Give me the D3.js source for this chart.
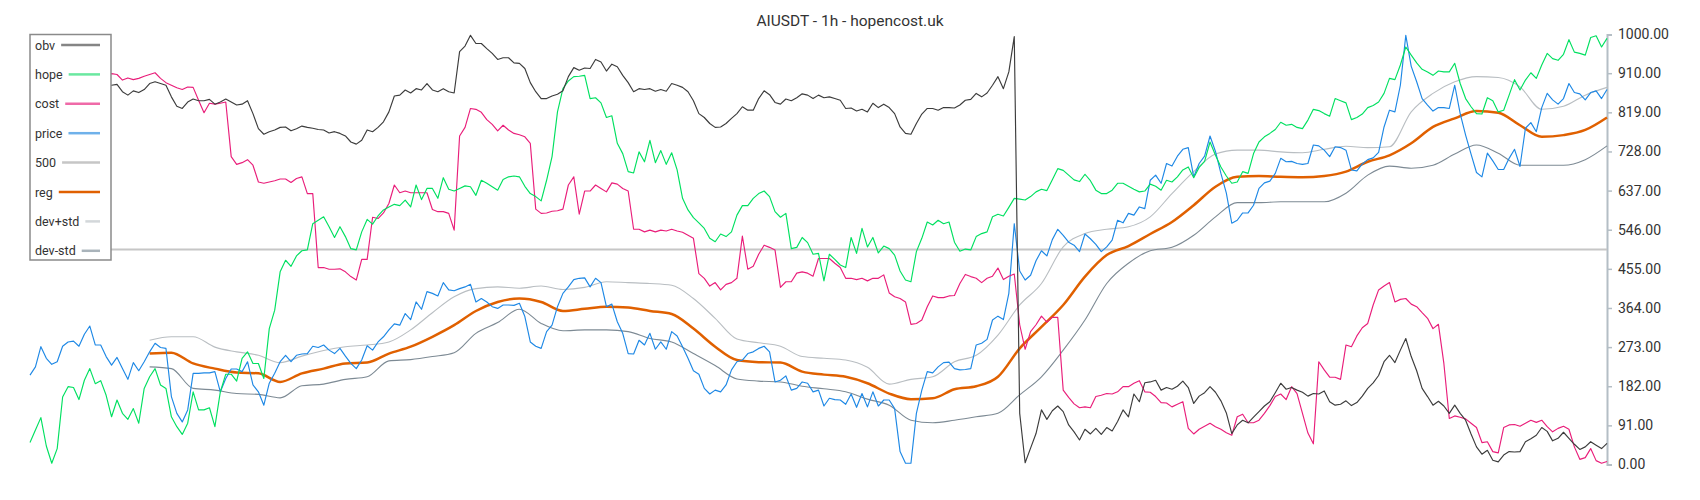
<!DOCTYPE html>
<html>
<head>
<meta charset="utf-8">
<script src="https://cdn.jsdelivr.net/npm/d3@7"></script>
<style>
  body { margin: 0; background: #fff; }
  svg { font-family: Roboto, "Open Sans", sans-serif; }
</style>
</head>
<body>
<div id="chart"></div>
<script>
// Data (values already normalised to 0..1000, one value per hourly bar)
const title = "AIUSDT - 1h - hopencost.uk";
const yTicks = [0, 91, 182, 273, 364, 455, 546, 637, 728, 819, 910, 1000];
const level = 500;

const obv = [870, 875, 880, 872, 868, 860, 865, 878, 885, 880, 870, 862, 866, 875, 880,
  882, 884, 867, 859, 869, 865, 872, 886, 890, 886, 882, 855, 833, 828, 843, 850, 846, 846, 849, 838, 843, 850, 843, 836, 838, 846, 816,
  781, 768, 774, 778, 784, 785, 776, 781, 787, 784, 782, 779, 778, 771, 774, 770, 764, 750, 745, 754, 778, 774, 784, 797, 820, 857, 859, 871, 864, 874, 871, 886, 871, 867, 874, 867, 864, 960, 973, 998, 979,
  979, 967, 956, 942, 946, 946, 934, 933, 921, 888, 867, 851, 851, 857, 861, 869, 902, 923, 917, 922, 921, 942, 936, 915, 931, 925, 905, 888, 867, 874, 872, 874, 868, 872, 868, 886, 882, 877, 867, 846, 816,
  807, 793, 784, 785, 793, 805, 816, 832, 824, 824, 851, 869, 860, 842, 838, 850, 846, 853, 862, 859, 851, 859, 853, 855, 851, 847, 828, 829, 822, 826, 820, 840, 830, 838, 830, 816, 785, 770, 768, 793, 815,
  828, 828, 824, 830, 830, 829, 836, 847, 849, 863, 855, 864, 882, 902, 874, 913, 995, 119, 4, 38, 72, 127, 105, 125, 136, 123, 92, 76, 57, 82, 71, 84, 70, 86, 78, 100, 127, 111, 164, 146, 190,
  192, 196, 173, 179, 175, 182, 194, 179, 142, 159, 167, 181, 168, 148, 120, 72, 92, 103, 97, 110, 123, 136, 146, 167, 189, 175, 179, 173, 168, 159, 165, 164, 171, 146, 138, 140, 148, 137, 144, 159, 177,
  190, 207, 239, 254, 237, 266, 293, 251, 218, 177, 158, 138, 147, 136, 119, 138, 119, 103, 71, 41, 24, 33, 10, 6, 22, 30, 29, 30, 53, 60, 68, 86, 77, 55, 61, 75, 61, 47, 35, 41, 53, 45, 37, 49];

const hope = [51, 80, 109, 43, 3, 37, 157, 181, 179, 151, 196, 223, 188, 195, 161, 111, 150, 119, 105, 130, 96, 177, 204, 223, 185, 177, 111, 88, 70, 96, 169, 127, 127, 132, 88, 169, 210, 210, 194, 247, 262, 235,
  235, 200, 316, 359, 448, 475, 461, 485, 497, 499, 560, 568, 576, 553, 528, 553, 530, 502, 499, 541, 570, 559, 578, 592, 599, 605, 602, 615, 599, 650, 616, 642, 642, 619, 667, 640, 636, 642, 648, 646, 626,
  661, 654, 646, 638, 663, 669, 671, 669, 647, 630, 623, 613, 661, 716, 820, 874, 892, 902, 903, 905, 851, 853, 841, 807, 811, 747, 723, 681, 678, 727, 704, 754, 702, 730, 698, 725, 685, 619, 592, 574, 562,
  549, 526, 518, 536, 530, 541, 580, 602, 602, 619, 630, 636, 623, 588, 575, 584, 502, 505, 528, 516, 489, 491, 427, 489, 477, 464, 458, 528, 491, 549, 506, 528, 492, 508, 502, 487, 450, 429, 425, 495, 526,
  564, 557, 568, 560, 564, 517, 496, 501, 499, 530, 537, 541, 576, 582, 578, 598, 619, 617, 615, 623, 634, 640, 637, 662, 688, 684, 673, 662, 658, 675, 660, 638, 630, 630, 638, 654, 654, 647, 640, 634, 636,
  652, 647, 638, 661, 657, 669, 685, 692, 667, 691, 705, 750, 719, 692, 671, 654, 657, 681, 677, 723, 750, 762, 770, 779, 796, 789, 791, 784, 781, 801, 826, 823, 816, 810, 851, 846, 841, 802, 807, 815, 830,
  835, 843, 863, 898, 895, 929, 971, 952, 934, 919, 913, 905, 915, 913, 913, 933, 886, 851, 832, 816, 815, 853, 846, 820, 824, 859, 895, 871, 894, 911, 898, 929, 956, 944, 940, 954, 988, 959, 956, 952, 993, 997, 971, 991];

const cost = [880, 885, 890, 900, 920, 950, 985, 1000, 975, 940, 915, 905, 910, 905, 908,
  909, 907, 894, 899, 895, 898, 903, 907, 911, 898, 888, 882, 876, 872, 878, 877, 847, 818, 840, 838, 840, 843, 716, 698, 702, 709, 696,
  657, 654, 657, 660, 664, 664, 656, 665, 669, 630, 630, 458, 458, 454, 454, 455, 448, 437, 429, 477, 477, 575, 572, 585, 607, 650, 632, 636, 632, 632, 632, 632, 593, 588, 588, 584, 545, 764, 784, 828, 826,
  819, 802, 791, 776, 789, 778, 770, 767, 762, 747, 594, 584, 585, 589, 590, 594, 650, 669, 582, 636, 636, 650, 642, 634, 655, 652, 642, 636, 547, 547, 541, 545, 541, 545, 543, 547, 543, 540, 533, 526, 444,
  433, 415, 423, 406, 419, 423, 433, 531, 454, 461, 489, 510, 505, 499, 412, 425, 425, 445, 448, 445, 438, 479, 479, 479, 468, 458, 433, 433, 430, 433, 427, 433, 433, 441, 399, 390, 386, 378, 326, 328, 336,
  367, 392, 388, 388, 392, 393, 421, 442, 437, 433, 423, 433, 438, 457, 430, 438, 443, 325, 268, 309, 325, 345, 331, 342, 342, 173, 156, 141, 132, 134, 132, 158, 161, 165, 164, 169, 181, 181, 189, 195, 169,
  168, 158, 144, 143, 134, 140, 146, 84, 71, 82, 89, 96, 88, 82, 74, 68, 111, 117, 97, 97, 103, 119, 137, 158, 164, 151, 181, 165, 119, 73, 48, 239, 220, 203, 203, 198, 278, 274, 299, 318, 328,
  371, 406, 415, 423, 378, 384, 386, 373, 367, 353, 340, 316, 326, 235, 107, 113, 110, 106, 96, 86, 51, 53, 30, 27, 86, 92, 93, 89, 96, 103, 98, 103, 88, 76, 84, 89, 82, 41, 12, 16, 37, 9, 3, 7];

const price = [208, 227, 274, 247, 233, 239, 275, 285, 287, 275, 303, 322, 278, 278, 251, 231, 249, 223, 198, 237, 218, 239, 262, 282, 272, 270, 158, 119, 99, 127, 212, 212, 213, 213, 216, 169, 200, 222, 222, 216, 239, 185,
  169, 138, 189, 212, 239, 254, 239, 254, 257, 258, 275, 272, 278, 266, 258, 270, 252, 235, 223, 243, 276, 266, 285, 297, 313, 327, 324, 351, 337, 378, 361, 402, 398, 392, 423, 406, 404, 409, 413, 419, 378,
  386, 378, 367, 363, 371, 371, 370, 375, 344, 285, 275, 270, 309, 324, 367, 398, 413, 430, 433, 434, 413, 433, 423, 367, 373, 332, 305, 258, 257, 289, 278, 305, 268, 285, 268, 309, 299, 274, 247, 218, 210,
  177, 164, 173, 169, 185, 220, 239, 243, 258, 262, 270, 275, 262, 192, 196, 206, 173, 177, 192, 189, 169, 173, 136, 154, 151, 150, 140, 164, 133, 165, 134, 169, 136, 150, 150, 130, 30, 3, 3, 119, 173,
  216, 213, 227, 237, 238, 223, 220, 221, 223, 278, 282, 291, 336, 345, 337, 398, 560, 450, 429, 440, 474, 497, 485, 523, 547, 533, 517, 510, 495, 536, 525, 512, 495, 506, 522, 568, 562, 584, 580, 599, 595,
  661, 673, 654, 700, 694, 717, 733, 737, 669, 700, 717, 764, 728, 677, 631, 561, 568, 585, 585, 603, 642, 655, 659, 677, 712, 704, 705, 700, 698, 700, 743, 741, 731, 716, 739, 737, 731, 685, 683, 699, 709,
  713, 726, 785, 824, 820, 882, 998, 926, 890, 851, 836, 822, 830, 830, 828, 882, 816, 766, 722, 679, 669, 724, 706, 686, 686, 712, 733, 693, 782, 795, 774, 830, 863, 848, 838, 851, 886, 865, 862, 848, 865, 869, 851, 872];

// regression band, sampled every 4 bars from bar 22
const bandStart = 22;
const bandStep = 4;
const reg = [258, 260, 235, 223, 214, 212, 192, 212, 223, 235, 237, 258, 274, 297, 324, 357, 378, 386, 378, 357,
  362, 367, 365, 357, 350, 316, 274, 243, 238, 237, 216, 209, 204, 189, 165, 152, 154, 175, 182, 204,
  270, 320, 371, 437, 487, 508, 536, 564, 603, 646, 669, 671, 669, 668, 671, 681, 704, 719, 747, 785,
  805, 822, 818, 789, 762, 766, 778, 807];
const devPlus = [289, 297, 297, 273, 262, 254, 237, 252, 265, 274, 278, 285, 313, 353, 390, 409, 413, 410, 415, 407,
  412, 425, 423, 421, 417, 386, 340, 292, 283, 275, 251, 247, 243, 226, 187, 198, 204, 239, 254, 301,
  371, 421, 506, 537, 547, 553, 576, 630, 681, 722, 731, 731, 727, 725, 733, 740, 737, 739, 820, 863,
  890, 902, 900, 878, 826, 833, 859, 877];
const devMinus = [227, 223, 177, 173, 165, 163, 155, 183, 187, 198, 204, 241, 244, 251, 260, 305, 330, 361, 328, 311,
  313, 313, 309, 293, 285, 258, 230, 199, 194, 192, 182, 176, 169, 152, 138, 103, 97, 103, 111, 119,
  162, 204, 266, 336, 421, 468, 497, 505, 533, 576, 609, 609, 611, 611, 611, 631, 673, 694, 689, 696,
  722, 743, 724, 696, 696, 696, 709, 741];

// Create the chart
const width = 1700;
const height = 500;
const svg = d3.select("#chart")
  .append("svg")
  .attr("width", width)
  .attr("height", height);

// Create the scales
const x = d3.scaleLinear()
  .domain([0, obv.length - 1])
  .range([30, 1607]);
const y = d3.scaleLinear()
  .domain([0, 1000])
  .range([464.5, 34.5]);

// Title
svg.append("text")
  .attr("x", width / 2)
  .attr("y", 26)
  .attr("text-anchor", "middle")
  .attr("font-size", 15.5)
  .attr("fill", "#333")
  .text(title);

// Axis on the right
const axis = svg.append("g")
  .attr("transform", "translate(1607, 0)")
  .call(d3.axisRight(y).tickValues(yTicks).tickFormat(d3.format(".2f")).tickSize(5).tickPadding(6));
axis.select(".domain").attr("stroke", "#b4bec5").attr("stroke-width", 2);
axis.selectAll(".tick line").attr("stroke", "#b4bec5").attr("stroke-width", 1.5);
axis.selectAll(".tick text")
  .attr("font-size", 14)
  .attr("font-family", "Roboto, sans-serif")
  .attr("fill", "#333");

// Line generators
const line = d3.line()
  .x((d, i) => x(i))
  .y(d => y(d));
const bandLine = d3.line()
  .x((d, i) => x(bandStart + i * bandStep))
  .y(d => y(d))
  .curve(d3.curveMonotoneX);

// Series: drawn bottom first
const series = [
  { name: "dev-std", data: devMinus, gen: bandLine, stroke: "#7d8a94", width: 1.1 },
  { name: "dev+std", data: devPlus, gen: bandLine, stroke: "#b9bec2", width: 1.1 },
  { name: "reg", data: reg, gen: bandLine, stroke: "#e06000", width: 2.5 },
  { name: "price", data: price, gen: line, stroke: "#1e88e5", width: 1.15 },
  { name: "cost", data: cost, gen: line, stroke: "#e91e7a", width: 1.15 },
  { name: "hope", data: hope, gen: line, stroke: "#00e060", width: 1.15 },
  { name: "obv", data: obv, gen: line, stroke: "#3c3c3c", width: 1.15 }
];

// 500 line
svg.append("line")
  .attr("x1", x(0))
  .attr("x2", x(obv.length - 1))
  .attr("y1", y(level))
  .attr("y2", y(level))
  .attr("stroke", "#c6c6c6")
  .attr("stroke-width", 2);

series.forEach(s => {
  svg.append("path")
    .datum(s.data)
    .attr("d", s.gen)
    .attr("fill", "none")
    .attr("stroke", s.stroke)
    .attr("stroke-width", s.width)
    .attr("stroke-linejoin", "round");
});

// Legend
const legendItems = [
  { name: "obv", key: "#858585" },
  { name: "hope", key: "#6ae8a0" },
  { name: "cost", key: "#ef6aa8" },
  { name: "price", key: "#6fb1ea" },
  { name: "500", key: "#c6c6c6" },
  { name: "reg", key: "#e06000" },
  { name: "dev+std", key: "#d3d7da" },
  { name: "dev-std", key: "#a9b3ba" }
];
const legend = svg.append("g");
legend.append("rect")
  .attr("x", 30)
  .attr("y", 34.5)
  .attr("width", 81)
  .attr("height", 225.5)
  .attr("fill", "#fff")
  .attr("stroke", "#8a8a8a")
  .attr("stroke-width", 1.5);
legendItems.forEach((d, i) => {
  const cy = 45 + i * 29.4;
  const t = legend.append("text")
    .attr("x", 35)
    .attr("y", cy + 4.5)
    .attr("font-size", 12.5)
    .attr("fill", "#333")
    .text(d.name);
  const tw = t.node().getComputedTextLength();
  legend.append("line")
    .attr("x1", 35 + tw + 6)
    .attr("x2", 100)
    .attr("y1", cy)
    .attr("y2", cy)
    .attr("stroke", d.key)
    .attr("stroke-width", 2.5);
});
</script>
</body>
</html>
